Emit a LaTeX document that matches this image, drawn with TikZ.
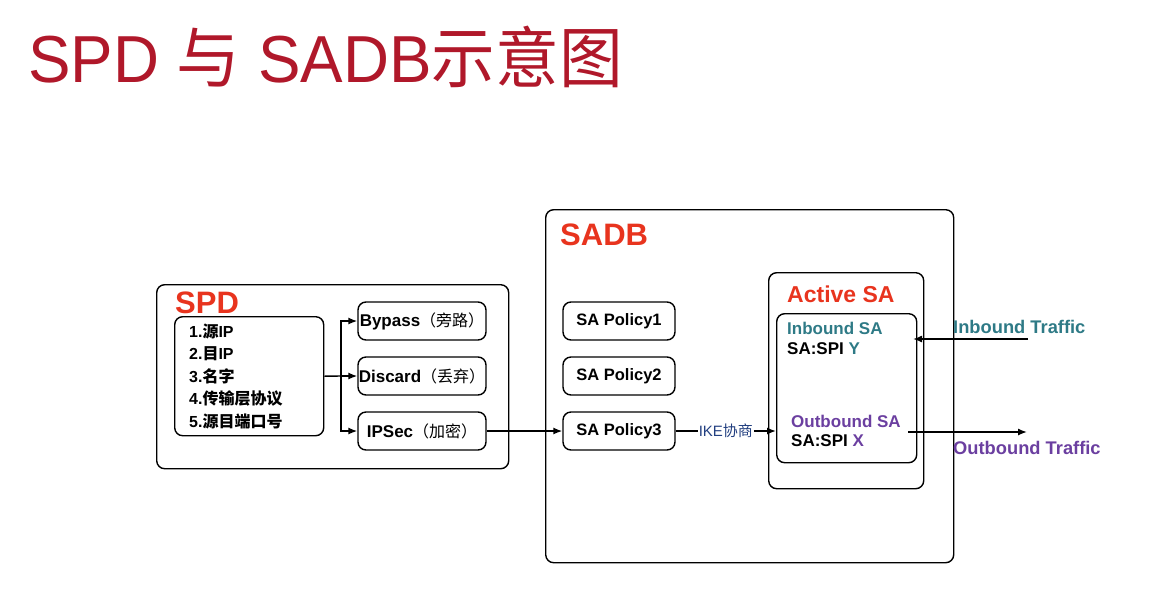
\documentclass[tikz,border=0pt]{standalone}
\usepackage{fontspec}
\setmainfont{Liberation Sans}
\newfontfamily\cjk{Noto Sans CJK SC}
\usetikzlibrary{arrows.meta}
\definecolor{titlered}{HTML}{B0182A}
\definecolor{lblred}{HTML}{E8341E}
\definecolor{inteal}{HTML}{2E7A86}
\definecolor{outpurple}{HTML}{6B3FA0}
\definecolor{ikeblue}{HTML}{223F80}
\begin{document}
\begin{tikzpicture}[x=1pt,y=-1pt,
  box/.style={draw, line width=1.4pt, rounded corners=8pt, inner sep=0pt, anchor=north west},
  tbox/.style={draw, line width=1.4pt, rounded corners=8pt, inner sep=0pt,
    minimum width=128pt, minimum height=38pt, font=\bfseries\fontsize{17}{20}\selectfont},
  pbox/.style={tbox, minimum width=112pt, font=\bfseries\fontsize{16.5}{20}\selectfont},
  arr/.style={line width=1.4pt, -{Latex[length=9pt,width=7pt]}},
  ln/.style={line width=1.4pt},
  bigred/.style={anchor=base west, inner sep=0pt, text=lblred, font=\bfseries\fontsize{31}{36}\selectfont},
  txt/.style={anchor=west, inner sep=0pt, font=\bfseries\fontsize{17}{20}\selectfont},
  trf/.style={anchor=west, inner sep=0pt, font=\bfseries\fontsize{18.3}{22}\selectfont},
]
\useasboundingbox (0,0) rectangle (1164,590);

% title
\node[anchor=base west, inner sep=0pt, text=titlered, font=\fontsize{70}{80}\selectfont] (title) at (28,82)
  {\scalebox{0.91}[0.95]{SPD {\cjk 与} SADB{\cjk 示意图}}};

% SPD
\node[box, minimum width=352pt, minimum height=184pt] (spd) at (156,284) {};
\node[bigred] (spdlbl) at (175,313) {SPD};
\node[box, minimum width=149pt, minimum height=119pt] (list) at (174,316) {};
\node[anchor=west, inner sep=0pt, align=left, font=\bfseries\fontsize{16}{22.5}\selectfont] (items) at (189,376)
  {1.{\cjk 源}IP\\2.{\cjk 目}IP\\3.{\cjk 名字}\\4.{\cjk 传输层协议}\\5.{\cjk 源目端口号}};

\node[tbox] (bypass) at (422,321) {Bypass{\cjk\mdseries\fontsize{16}{20}\selectfont （旁路）}};
\node[tbox] (discard) at (422,376) {Discard{\cjk\mdseries\fontsize{16}{20}\selectfont （丢弃）}};
\node[tbox] (ipsec) at (422,431) {IPSec{\cjk\mdseries\fontsize{16}{20}\selectfont （加密）}};

\coordinate (split) at (341,376);
\draw[ln] (list.east) -- (split);
\draw[arr] (split) |- (bypass.west);
\draw[arr] (split) -- (discard.west);
\draw[arr] (split) |- (ipsec.west);

% SADB
\node[box, minimum width=408pt, minimum height=353pt] (sadb) at (545,209) {};
\node[bigred] (sadblbl) at (560,245) {SADB};
\node[pbox] (p1) at (619,321) {SA Policy1};
\node[pbox] (p2) at (619,376) {SA Policy2};
\node[pbox] (p3) at (619,431) {SA Policy3};
\draw[arr] (ipsec.east) -- (p3.west);

% Active SA
\node[box, minimum width=155pt, minimum height=216pt] (active) at (768,272) {};
\node[bigred, font=\bfseries\fontsize{23}{27}\selectfont] (activelbl) at (787,302) {Active SA};
\node[box, minimum width=140pt, minimum height=149pt] (inner) at (776,313) {};
\node[txt, text=inteal] (insa) at (787,328) {Inbound SA};
\node[txt] (inspi) at (787,349) {SA:SPI \textcolor{inteal}{Y}};
\node[txt, text=outpurple] (outsa) at (791,421) {Outbound SA};
\node[txt] (outspi) at (791,441) {SA:SPI \textcolor{outpurple}{X}};

\draw[arr] (p3.east) -- node[fill=white, inner sep=1pt, text=ikeblue, font=\fontsize{15}{17}\selectfont] (ike) {IKE{\cjk 协商}} (p3.east -| inner.west);

% traffic
\coordinate (inT) at (1028,339);
\coordinate (outS) at (908,432);
\coordinate (outE) at (1027,432);
\draw[arr] (inT) -- (913,339);
\draw[arr] (outS) -- (outE);
\node[trf, text=inteal] (intraffic) at (953,327) {Inbound Traffic};
\node[trf, text=outpurple] (outtraffic) at (953,448) {Outbound Traffic};
\end{tikzpicture}
\end{document}
